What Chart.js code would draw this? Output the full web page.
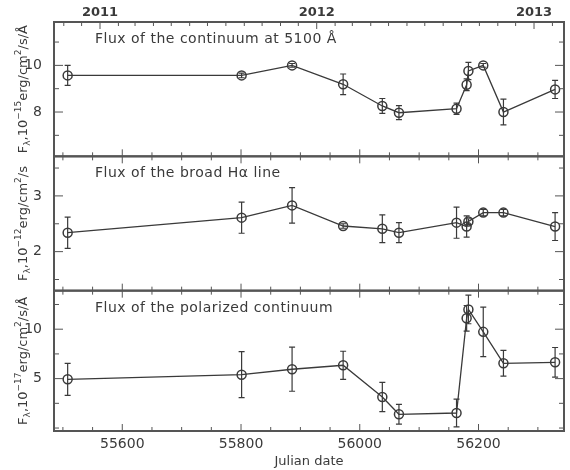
<!DOCTYPE html>
<html>
<head>
<meta charset="utf-8">
<script src="https://cdn.jsdelivr.net/npm/chart.js@4/dist/chart.umd.min.js"></script>
<style>
  html, body { margin: 0; padding: 0; background: #fff; }
  #wrap { width: 570px; height: 470px; }
</style>
</head>
<body>
<div id="wrap"><canvas id="chart"></canvas></div>
<script>
// Observation dates (JD - 2400000)
const julianDates = [55508, 55801, 55886, 55972, 56038, 56066, 56163, 56180, 56183, 56208, 56242, 56329];

// Continuum flux at 5100 A, 1e-15 erg/cm2/s/A
const contFlux = [9.57, 9.57, 10.0, 9.19, 8.26, 7.97, 8.14, 9.17, 9.76, 10.0, 8.0, 8.97];
const contErr  = [0.43, 0.10, 0.08, 0.44, 0.32, 0.30, 0.24, 0.25, 0.37, 0.08, 0.55, 0.39];

// Broad H-alpha flux, 1e-12 erg/cm2/s
const haFlux = [2.34, 2.61, 2.83, 2.46, 2.41, 2.34, 2.52, 2.45, 2.54, 2.70, 2.70, 2.45];
const haErr  = [0.28, 0.28, 0.32, 0.04, 0.25, 0.18, 0.28, 0.19, 0.05, 0.06, 0.06, 0.25];

// Polarized continuum flux, 1e-17 erg/cm2/s/A
const polFlux = [4.93, 5.4, 5.95, 6.35, 3.14, 1.39, 1.52, 11.1, 12.0, 9.73, 6.55, 6.65];
const polErr  = [1.62, 2.33, 2.23, 1.42, 1.47, 1.0, 1.4, 1.3, 1.45, 2.5, 1.3, 1.5];

// Axis ticks
const jdMajorTicks = [55600, 55800, 56000, 56200];
const yearLabels = [2011, 2012, 2013];
const contTicks = [8, 10], contMinor = [7, 9, 11];
const haTicks = [2, 3], haMinor = [1.5, 2.5, 3.5];
const polTicks = [5, 10], polMinor = [0, 2.5, 7.5, 12.5];

const panelTitles = ['Flux of the continuum at 5100 Å', 'Flux of the broad Hα line', 'Flux of the polarized continuum'];
const INK = '#3a3a3a';
const FONT = '"DejaVu Sans", sans-serif';

// calendar date -> JD - 2400000
function toJD(y, m) {
    return (Date.UTC(y, m, 1) - Date.UTC(1858, 10, 16, 12)) / 86400000;
}

function makePoints(vals) {
    return julianDates.map((x, i) => ({ x: x, y: vals[i] }));
}

function yAxis(min, max, ticks, weight) {
    return {
        type: 'linear',
        position: 'left',
        stack: 'flux',
        stackWeight: weight,
        min: min,
        max: max,
        grid: { display: false },
        border: { display: false },
        afterBuildTicks: s => { s.ticks = ticks.map(v => ({ value: v })); },
        afterFit: s => { s.width = 54; },
        ticks: { color: INK, padding: 4, font: { family: FONT, size: 14 } }
    };
}

const panels = [
    { axis: 'ytop', vals: contFlux, err: contErr, minor: contMinor, major: contTicks,
      label: [['F', 0], ['λ', -1], [',10', 0], ['−15', 1], ['erg/cm', 0], ['2', 1], ['/s/Å', 0]] },
    { axis: 'ymid', vals: haFlux, err: haErr, minor: haMinor, major: haTicks,
      label: [['F', 0], ['λ', -1], [',10', 0], ['−12', 1], ['erg/cm', 0], ['2', 1], ['/s', 0]] },
    { axis: 'ybot', vals: polFlux, err: polErr, minor: polMinor, major: polTicks,
      label: [['F', 0], ['λ', -1], [',10', 0], ['−17', 1], ['erg/cm', 0], ['2', 1], ['/s/Å', 0]] }
];

// error bars, frames, inward ticks, panel captions and rich y titles
const decorPlugin = {
    id: 'decor',
    beforeDatasetsDraw(chart) {
        const ctx = chart.ctx, x = chart.scales.x;
        ctx.save();
        ctx.strokeStyle = INK;
        ctx.lineWidth = 1.2;
        panels.forEach(p => {
            const y = chart.scales[p.axis];
            julianDates.forEach((jd, i) => {
                const px = x.getPixelForValue(jd);
                const lo = y.getPixelForValue(p.vals[i] - p.err[i]);
                const hi = y.getPixelForValue(p.vals[i] + p.err[i]);
                ctx.beginPath();
                ctx.moveTo(px, lo); ctx.lineTo(px, hi);
                ctx.moveTo(px - 3, lo); ctx.lineTo(px + 3, lo);
                ctx.moveTo(px - 3, hi); ctx.lineTo(px + 3, hi);
                ctx.stroke();
            });
        });
        ctx.restore();
    },
    afterDraw(chart) {
        const ctx = chart.ctx, area = chart.chartArea, x = chart.scales.x;
        ctx.save();
        ctx.strokeStyle = '#555';
        ctx.lineWidth = 1;

        const jdMinor = [];
        for (let v = 55500; v <= 56300; v += 50) jdMinor.push(v);
        const months = [];
        for (let y = 2010; y <= 2013; y++) {
            for (let m = 0; m < 12; m++) months.push({ v: toJD(y, m), major: m === 0 });
        }

        panels.forEach((p, k) => {
            const y = chart.scales[p.axis];
            const top = y.top, bottom = y.bottom;
            ctx.beginPath();
            // x ticks on panel edges
            jdMinor.forEach(v => {
                const px = x.getPixelForValue(v);
                if (px < area.left || px > area.right) return;
                const len = jdMajorTicks.includes(v) ? 7 : 4;
                if (k > 0) { ctx.moveTo(px, top); ctx.lineTo(px, top + len); }
                ctx.moveTo(px, bottom); ctx.lineTo(px, bottom - len);
            });
            if (k === 0) {
                months.forEach(m => {
                    const px = x.getPixelForValue(m.v);
                    if (px < area.left || px > area.right) return;
                    const len = m.major ? 7 : 4;
                    ctx.moveTo(px, top); ctx.lineTo(px, top + len);
                });
            }
            // y ticks on both sides
            p.major.concat(p.minor).forEach(v => {
                const py = y.getPixelForValue(v);
                if (py < top || py > bottom) return;
                const len = p.major.includes(v) ? 9 : 5;
                ctx.moveTo(area.left, py); ctx.lineTo(area.left + len, py);
                ctx.moveTo(area.right, py); ctx.lineTo(area.right - len, py);
            });
            ctx.stroke();

            // frame
            ctx.lineWidth = 2;
            ctx.strokeRect(area.left, top, area.right - area.left, bottom - top);
            ctx.lineWidth = 1;

            // caption
            ctx.fillStyle = INK;
            ctx.font = '14px ' + FONT;
            ctx.letterSpacing = '0.5px';
            ctx.textAlign = 'left';
            ctx.textBaseline = 'alphabetic';
            ctx.fillText(panelTitles[k], 95, top + 21);
            ctx.letterSpacing = '0px';

            // rotated y title with sub/superscripts
            const pieces = p.label.map(([t, lvl]) => {
                ctx.font = (lvl === 0 ? '13px ' : '9px ') + FONT;
                return { t, lvl, w: ctx.measureText(t).width };
            });
            const total = pieces.reduce((s, q) => s + q.w, 0);
            ctx.save();
            ctx.translate(27, (top + bottom) / 2);
            ctx.rotate(-Math.PI / 2);
            let cx = -total / 2;
            pieces.forEach(q => {
                ctx.font = (q.lvl === 0 ? '13px ' : '9px ') + FONT;
                const dy = q.lvl > 0 ? -6 : (q.lvl < 0 ? 3 : 0);
                ctx.fillText(q.t, cx, dy);
                cx += q.w;
            });
            ctx.restore();
        });
        ctx.restore();
    }
};

const lineStyle = {
    showLine: true,
    borderColor: INK,
    borderWidth: 1.3,
    pointRadius: 4.5,
    pointBorderWidth: 1.5,
    pointBorderColor: INK,
    pointBackgroundColor: 'rgba(0,0,0,0)',
    xAxisID: 'x'
};

new Chart(document.getElementById('chart'), {
    type: 'scatter',
    data: {
        datasets: panels.map(p => ({ ...lineStyle, data: makePoints(p.vals), yAxisID: p.axis }))
    },
    options: {
        responsive: true,
        maintainAspectRatio: false,
        animation: false,
        layout: { padding: { right: 2 } },
        plugins: { legend: { display: false }, tooltip: { enabled: false } },
        scales: {
            // stacked axes are placed top-down in reverse order, so bottom panel first
            ybot: yAxis(-0.3, 13.9, polTicks, 140),
            ymid: yAxis(1.30, 3.71, haTicks, 134),
            ytop: yAxis(6.1, 11.86, contTicks, 134),
            x: {
                type: 'linear',
                position: 'bottom',
                min: 55485,
                max: 56344,
                grid: { display: false, drawTicks: false },
                border: { display: false },
                afterBuildTicks: s => { s.ticks = jdMajorTicks.map(v => ({ value: v })); },
                afterFit: s => { s.height = 39; },
                ticks: { color: INK, padding: 5, font: { family: FONT, size: 14 }, callback: v => String(v) },
                title: { display: true, text: 'Julian date', color: INK, padding: { top: 0, bottom: 1 }, font: { family: FONT, size: 13 } }
            },
            xtop: {
                type: 'linear',
                position: 'top',
                min: 55485,
                max: 56344,
                grid: { display: false, drawTicks: false },
                border: { display: false },
                afterBuildTicks: s => { s.ticks = yearLabels.map(y => ({ value: toJD(y, 0) })); },
                afterFit: s => { s.height = 22; },
                ticks: {
                    color: INK, padding: 2, font: { family: FONT, size: 13, weight: 'bold' },
                    callback: (v, i) => String(yearLabels[i])
                }
            }
        }
    },
    plugins: [decorPlugin]
});
</script>
</body>
</html>
